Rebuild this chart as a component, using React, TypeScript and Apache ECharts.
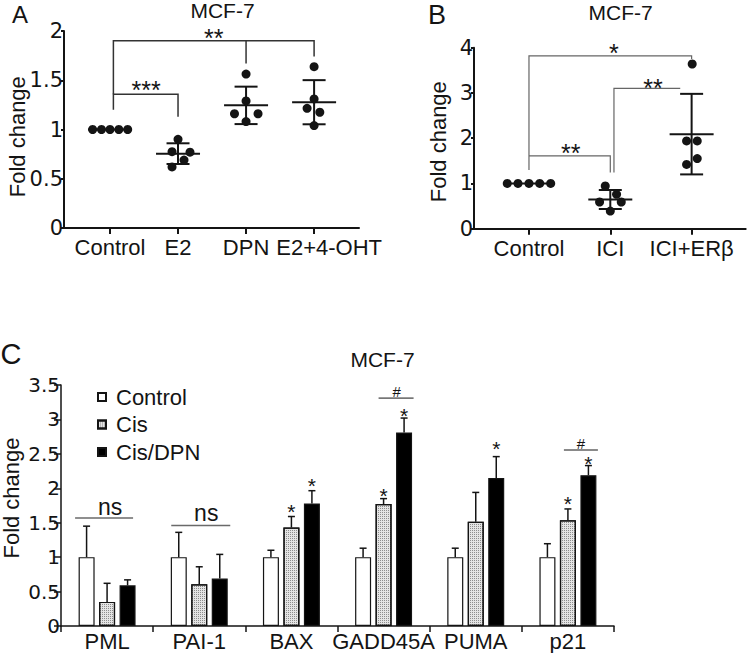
import React, { useEffect, useRef } from 'react';
import * as echarts from 'echarts';

const FONT = '"Liberation Sans", Arial, Helvetica, sans-serif';
const NUMFONT = '"DejaVu Sans", "Liberation Sans", Arial, sans-serif';
const INK = '#141414';

// ---------- Panel A ----------
const catsA = ['Control', 'E2', 'DPN', 'E2+4-OHT'];
const pointsA = [
  [1, 1, 1, 1, 1],
  [0.9, 0.775, 0.77, 0.69, 0.62],
  [1.563, 1.29, 1.16, 1.16, 1.08],
  [1.638, 1.31, 1.215, 1.175, 1.04],
];
const jitterA = [
  [-0.255, -0.125, 0, 0.13, 0.26],
  [0, -0.088, 0.176, 0.088, -0.088],
  [0, 0, -0.17, 0.176, 0],
  [0, 0, -0.103, 0.084, 0],
];
const meanA = [1, 0.755, 1.245, 1.277];
const sdA = [0, 0.105, 0.19, 0.224];

// ---------- Panel B ----------
const catsB = ['Control', 'ICI', 'ICI+ERβ'];
const pointsB = [
  [1, 1, 1, 1, 1],
  [0.944, 0.76, 0.59, 0.59, 0.39],
  [3.64, 1.94, 1.94, 1.55, 1.42],
];
const jitterB = [
  [-0.267, -0.135, 0, 0.132, 0.267],
  [-0.062, 0.077, -0.132, 0.135, 0],
  [0.007, -0.062, 0.069, 0.069, -0.062],
];
const meanB = [1, 0.645, 2.09];
const sdB = [0, 0.21, 0.89];

// ---------- Panel C ----------
const catsC = ['PML', 'PAI-1', 'BAX', 'GADD45A', 'PUMA', 'p21'];
const namesC = ['Control', 'Cis', 'Cis/DPN'];
const controlC = [1, 1, 1, 1, 1, 1];
const controlErrC = [0.45, 0.36, 0.1, 0.13, 0.13, 0.195];
const cisC = [0.35, 0.605, 1.43, 1.77, 1.515, 1.535];
const cisErrC = [0.27, 0.255, 0.16, 0.08, 0.425, 0.165];
const dpnC = [0.59, 0.69, 1.78, 2.81, 2.15, 2.19];
const dpnErrC = [0.08, 0.35, 0.185, 0.21, 0.31, 0.14];

// significance annotations
const bracketsA = [
  { pts: [[0.05, 1.2], [0.05, 1.357], [1, 1.357], [1, 1.13]] },
  { pts: [[0.05, 1.357], [0.05, 1.9], [3, 1.9], [3, 1.74]] },
  { pts: [[2, 1.9], [2, 1.67]] },
];
const labelsA = [
  { x: 0.53, y: 1.46, t: '***', fs: 25 },
  { x: 1.526, y: 1.988, t: '**', fs: 25 },
];
const bracketsB = [
  { pts: [[0, 1.3], [0, 3.82], [2, 3.82], [2, 3.75]] },
  { pts: [[0, 1.61], [1, 1.61], [1, 1.24]] },
  { pts: [[1.045, 1.24], [1.045, 3.1], [1.86, 3.1]] },
];
const labelsB = [
  { x: 1.045, y: 4.02, t: '*', fs: 25 },
  { x: 1.525, y: 3.25, t: '**', fs: 25 },
  { x: 0.513, y: 1.81, t: '**', fs: 25 },
];
// category index, series slot (0..2), glyph centre value
const starsC = [
  [2, 1, 1.733], [2, 2, 2.12], [3, 1, 1.975], [3, 2, 3.137],
  [4, 2, 2.653], [5, 1, 1.855], [5, 2, 2.435],
];
const nsC = [
  { c: 0, y: 1.733, dx: 3, lineY: 1.57, d0: -32, d1: 26 },
  { c: 1, y: 1.64, dx: 7, lineY: 1.46, d0: -28, d1: 31 },
];
const hashC = [
  { c: 3, y: 3.4, dx: 13, lineY: 3.31, d0: -5, d1: 30 },
  { c: 5, y: 2.653, dx: 13, lineY: 2.556, d0: -4, d1: 30 },
];

const BAR_STEP = 20.5;

function polySeries(gi: number, lines: any[], color: string, width: number) {
  return {
    type: 'custom', xAxisIndex: gi, yAxisIndex: gi, z: 4, silent: true,
    data: lines.map((l) => l.pts[0]),
    renderItem: (params: any, api: any) => {
      const l = lines[params.dataIndex];
      const points = l.pts.map((p: number[]) => api.coord(p));
      return { type: 'polyline', shape: { points }, style: { stroke: color, lineWidth: width, fill: null } };
    },
  };
}

function textStyle(t: string, fs: number, ff = FONT) {
  return {
    text: t, fill: INK, fontSize: fs, fontFamily: ff,
    align: 'center', verticalAlign: 'middle', textAlign: 'center', textVerticalAlign: 'middle',
  };
}

function labelSeries(gi: number, items: any[]) {
  return {
    type: 'custom', xAxisIndex: gi, yAxisIndex: gi, z: 5, silent: true,
    data: items.map((it) => [it.x, it.y]),
    renderItem: (params: any, api: any) => {
      const it = items[params.dataIndex];
      const p = api.coord([it.x, it.y]);
      const dy = it.t.indexOf('*') >= 0 ? it.fs * 0.25 : 0;
      return { type: 'text', x: p[0] + (it.dx || 0), y: p[1] + dy, style: textStyle(it.t, it.fs) };
    },
  };
}

function meanSdSeries(gi: number, means: number[], sds: number[]) {
  return {
    type: 'custom', xAxisIndex: gi, yAxisIndex: gi, z: 3, silent: true,
    data: means.map((m, i) => [i, m, sds[i]]),
    renderItem: (params: any, api: any) => {
      const i = api.value(0), m = api.value(1), s = api.value(2);
      const c = api.coord([i, m]);
      const st = { stroke: INK, lineWidth: 2 };
      const children: any[] = [
        { type: 'line', shape: { x1: c[0] - 22, y1: c[1], x2: c[0] + 22, y2: c[1] }, style: st },
      ];
      if (s > 0) {
        const hi = api.coord([i, m + s]);
        const lo = api.coord([i, m - s]);
        children.push({ type: 'line', shape: { x1: c[0], y1: hi[1], x2: c[0], y2: lo[1] }, style: st });
        children.push({ type: 'line', shape: { x1: c[0] - 11.5, y1: hi[1], x2: c[0] + 11.5, y2: hi[1] }, style: st });
        children.push({ type: 'line', shape: { x1: c[0] - 11.5, y1: lo[1], x2: c[0] + 11.5, y2: lo[1] }, style: st });
      }
      return { type: 'group', children };
    },
  };
}

function dotSeries(gi: number, pts: number[][], jit: number[][]) {
  const data: number[][] = [];
  pts.forEach((arr, i) => arr.forEach((v, k) => data.push([i + jit[i][k], v])));
  return {
    type: 'scatter', xAxisIndex: gi, yAxisIndex: gi, z: 6, silent: true,
    symbolSize: 9, itemStyle: { color: INK, opacity: 1 }, data,
  };
}

function errSeriesC(slot: number, vals: number[], errs: number[]) {
  return {
    type: 'custom', xAxisIndex: 2, yAxisIndex: 2, z: 4, silent: true,
    data: vals.map((v, i) => [i, v, errs[i]]),
    renderItem: (params: any, api: any) => {
      const i = api.value(0), v = api.value(1), e = api.value(2);
      const b = api.coord([i, v]);
      const t = api.coord([i, v + e]);
      const x = b[0] + (slot - 1) * BAR_STEP;
      const st = { stroke: INK, lineWidth: 1.5 };
      return {
        type: 'group',
        children: [
          { type: 'line', shape: { x1: x, y1: b[1], x2: x, y2: t[1] }, style: st },
          { type: 'line', shape: { x1: x - 3.5, y1: t[1], x2: x + 3.5, y2: t[1] }, style: st },
        ],
      };
    },
  };
}

function annoSeriesC() {
  const items: any[] = [];
  starsC.forEach(([c, s, y]) => items.push({ kind: 't', c, y, dx: (s - 1) * BAR_STEP, t: '*', fs: 21 }));
  nsC.forEach((n) => {
    items.push({ kind: 't', c: n.c, y: n.y, dx: n.dx, t: 'ns', fs: 23 });
    items.push({ kind: 'l', c: n.c, y: n.lineY, d0: n.d0, d1: n.d1, color: '#6a6a6a', w: 1.5 });
  });
  hashC.forEach((n) => {
    items.push({ kind: 't', c: n.c, y: n.y, dx: n.dx, t: '#', fs: 15 });
    items.push({ kind: 'l', c: n.c, y: n.lineY, d0: n.d0, d1: n.d1, color: INK, w: 1 });
  });
  return {
    type: 'custom', xAxisIndex: 2, yAxisIndex: 2, z: 5, silent: true,
    data: items.map((it) => [it.c, it.y]),
    renderItem: (params: any, api: any) => {
      const it = items[params.dataIndex];
      const p = api.coord([it.c, it.y]);
      if (it.kind === 'l') {
        return {
          type: 'line',
          shape: { x1: p[0] + it.d0, y1: p[1], x2: p[0] + it.d1, y2: p[1] },
          style: { stroke: it.color, lineWidth: it.w },
        };
      }
      const dy = it.t === '*' ? it.fs * 0.25 : 0;
      return { type: 'text', x: p[0] + it.dx, y: p[1] + dy, style: textStyle(it.t, it.fs) };
    },
  };
}

const axisLine = (w: number) => ({ show: true, onZero: false, lineStyle: { color: INK, width: w } });
const gText = (t: string, x: number, y: number, fs: number, rot = 0) => ({
  type: 'text', x, y, rotation: rot, silent: true,
  style: textStyle(t, fs),
});

export default function App() {
  const ref = useRef<HTMLDivElement>(null);
  useEffect(() => {
    if (!ref.current) return;
    const chart = echarts.init(ref.current, null, { renderer: 'svg' });
    const option: any = {
      animation: false,
      backgroundColor: '#ffffff',
      textStyle: { fontFamily: FONT },
      grid: [
        { left: 64, top: 31, width: 295, height: 197 },
        { left: 474, top: 47.7, width: 271.7, height: 181 },
        { left: 61, top: 385, width: 553, height: 241 },
      ],
      xAxis: [
        {
          type: 'value', gridIndex: 0, min: -0.676, max: 3.66, splitLine: { show: false },
          axisLine: axisLine(2),
          axisTick: { show: true, customValues: [0, 1, 2, 3], length: 6, lineStyle: { color: INK, width: 2 } },
          axisLabel: {
            customValues: [0, 1, 2, 3], fontSize: 22, margin: 8, color: INK, fontFamily: FONT,
            formatter: (v: number) => {
              const i = Math.round(v);
              return i === 3 ? '{s|' + catsA[i] + '}' : catsA[i];
            },
            rich: { s: { fontSize: 22, fontFamily: FONT, color: INK, padding: [0, 0, 0, 30] } },
          },
        },
        {
          type: 'value', gridIndex: 1, min: -0.676, max: 2.665, splitLine: { show: false },
          axisLine: axisLine(2),
          axisTick: { show: true, customValues: [0, 1, 2], length: 6, lineStyle: { color: INK, width: 2 } },
          axisLabel: {
            customValues: [0, 1, 2], fontSize: 22, margin: 9, color: INK, fontFamily: FONT,
            formatter: (v: number) => catsB[Math.round(v)],
          },
        },
        {
          type: 'category', gridIndex: 2, data: catsC, boundaryGap: true,
          axisLine: axisLine(1.5),
          axisTick: { show: true, alignWithLabel: false, length: 6, lineStyle: { color: INK, width: 1.5 } },
          axisLabel: { fontSize: 22, margin: 4, color: INK, fontFamily: FONT, interval: 0 },
        },
      ],
      yAxis: [
        {
          type: 'value', gridIndex: 0, min: 0, max: 2, interval: 0.5, splitLine: { show: false },
          axisLine: axisLine(2),
          axisTick: { show: true, length: 3, lineStyle: { color: INK, width: 2 } },
          axisLabel: { fontSize: 21, margin: 1, color: INK, fontFamily: NUMFONT },
        },
        {
          type: 'value', gridIndex: 1, min: 0, max: 4, interval: 1, splitLine: { show: false },
          axisLine: axisLine(2),
          axisTick: { show: true, length: 3, lineStyle: { color: INK, width: 2 } },
          axisLabel: { fontSize: 21, margin: 1, color: INK, fontFamily: NUMFONT },
        },
        {
          type: 'value', gridIndex: 2, min: 0, max: 3.5, interval: 0.5, splitLine: { show: false },
          axisLine: axisLine(1.5),
          axisTick: { show: true, length: 7, lineStyle: { color: INK, width: 1.5 } },
          axisLabel: { fontSize: 20, margin: 1, color: INK, fontFamily: NUMFONT },
        },
      ],
      legend: {
        orient: 'vertical', left: 92, top: 381, itemWidth: 8, itemHeight: 8, itemGap: 5.5,
        icon: 'rect', data: namesC, selectedMode: false,
        textStyle: { fontSize: 22, lineHeight: 22, color: INK, fontFamily: FONT, padding: [0, 0, 0, 5] },
      },
      series: [
        meanSdSeries(0, meanA, sdA),
        dotSeries(0, pointsA, jitterA),
        polySeries(0, bracketsA, '#333333', 1.5),
        labelSeries(0, labelsA),
        meanSdSeries(1, meanB, sdB),
        dotSeries(1, pointsB, jitterB),
        polySeries(1, bracketsB, '#666666', 1.2),
        labelSeries(1, labelsB),
        {
          name: namesC[0], type: 'bar', xAxisIndex: 2, yAxisIndex: 2, data: controlC,
          barWidth: 16, barGap: '28%', z: 2,
          itemStyle: { color: '#ffffff', borderColor: INK, borderWidth: 1.2 },
        },
        {
          name: namesC[1], type: 'bar', xAxisIndex: 2, yAxisIndex: 2, data: cisC,
          barWidth: 16, barGap: '28%', z: 2,
          itemStyle: {
            color: '#e4e4e4', borderColor: INK, borderWidth: 1.2,
            decal: { symbol: 'rect', symbolSize: 1, color: 'rgba(0,0,0,0.38)', dashArrayX: [1, 1], dashArrayY: [1, 1], rotation: 0 },
          },
        },
        {
          name: namesC[2], type: 'bar', xAxisIndex: 2, yAxisIndex: 2, data: dpnC,
          barWidth: 16, barGap: '28%', z: 2,
          itemStyle: { color: '#000000', borderColor: INK, borderWidth: 1.2 },
        },
        errSeriesC(0, controlC, controlErrC),
        errSeriesC(1, cisC, cisErrC),
        errSeriesC(2, dpnC, dpnErrC),
        annoSeriesC(),
      ],
      graphic: [
        gText('A', 20, 14, 24),
        gText('B', 437, 15, 27),
        gText('C', 11, 354, 29),
        gText('MCF-7', 222.5, 10, 21),
        gText('MCF-7', 620.7, 12.5, 21),
        gText('MCF-7', 382.5, 359, 21),
        gText('Fold change', 17.5, 136.7, 22, Math.PI / 2),
        gText('Fold change', 438, 141.7, 22, Math.PI / 2),
        gText('Fold change', 11, 498, 22, Math.PI / 2),
      ],
    };
    chart.setOption(option);
    return () => chart.dispose();
  }, []);
  return (
    <div
      ref={ref}
      style={{ position: 'fixed', left: 0, top: 0, width: 748, height: 653, background: '#fff' }}
    />
  );
}
